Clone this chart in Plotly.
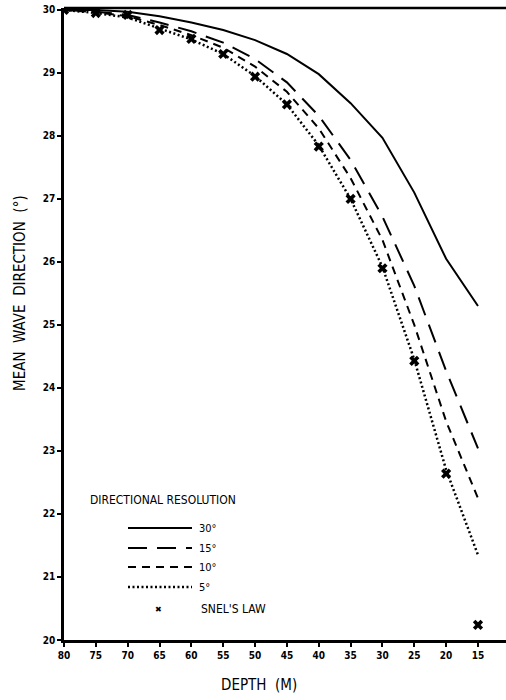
import plotly.graph_objects as go

depth = [80, 75, 70, 65, 60, 55, 50, 45, 40, 35, 30, 25, 20, 15]
res30 = [30.0, 30.0, 29.97, 29.9, 29.8, 29.68, 29.52, 29.3, 28.98, 28.52, 27.97, 27.1, 26.05, 25.3]
res15 = [30.0, 29.97, 29.92, 29.8, 29.66, 29.48, 29.22, 28.85, 28.32, 27.62, 26.72, 25.62, 24.27, 23.04]
res10 = [30.0, 29.96, 29.9, 29.76, 29.6, 29.4, 29.1, 28.7, 28.12, 27.33, 26.35, 25.0, 23.47, 22.25]
res5 = [30.0, 29.95, 29.88, 29.7, 29.53, 29.3, 28.95, 28.5, 27.85, 27.0, 25.92, 24.45, 22.7, 21.35]
snell = [30.0, 29.95, 29.92, 29.68, 29.54, 29.30, 28.94, 28.50, 27.83, 27.0, 25.9, 24.43, 22.64, 20.24]

legend_labels = ["30°", "15°", "10°", "5°"]
legend_title = "DIRECTIONAL RESOLUTION"
snell_label = "SNEL'S LAW"
x_ticks = [80, 75, 70, 65, 60, 55, 50, 45, 40, 35, 30, 25, 20, 15]
y_ticks = [20, 21, 22, 23, 24, 25, 26, 27, 28, 29, 30]

FONT = "DejaVu Sans Condensed"
dashes = ["solid", "19px,10px", "8px,6px", "2px,2.5px"]
widths = [2, 2, 2, 2.5]

fig = go.Figure()
for ys, d, w in zip([res30, res15, res10, res5], dashes, widths):
    fig.add_trace(go.Scatter(x=depth, y=ys, mode="lines",
                             line=dict(color="black", width=w, dash=d),
                             showlegend=False))
fig.add_trace(go.Scatter(x=depth, y=snell, mode="markers",
                         marker=dict(symbol="x", size=9, color="black"),
                         showlegend=False))

# legend drawn manually in paper coordinates
ph = 632.0  # plot height px
pw = 442.0
def py(y):
    return 1 - (y - 8) / ph
def px(x):
    return (x - 64) / pw

shapes = []
ann = []
leg_y = [528, 548, 567, 587]
for lab, d, w, yy in zip(legend_labels, dashes, widths, leg_y):
    shapes.append(dict(type="line", xref="paper", yref="paper",
                       x0=px(128), x1=px(192), y0=py(yy), y1=py(yy),
                       line=dict(color="black", width=w, dash=d)))
    ann.append(dict(text=lab, xref="paper", yref="paper", x=px(197), y=py(yy),
                    xanchor="left", yanchor="middle", showarrow=False,
                    font=dict(family=FONT, size=11, color="black")))
ann.append(dict(text=legend_title, xref="paper", yref="paper", x=px(88), y=py(500),
                xanchor="left", yanchor="middle", showarrow=False,
                font=dict(family=FONT, size=12, color="black")))
ann.append(dict(text=snell_label, xref="paper", yref="paper", x=px(199), y=py(609),
                xanchor="left", yanchor="middle", showarrow=False,
                font=dict(family=FONT, size=12, color="black")))
ann.append(dict(text="DEPTH  (M)", xref="paper", yref="paper", x=px(259), y=py(685),
                xanchor="center", yanchor="middle", showarrow=False,
                font=dict(family=FONT, size=15, color="black")))
ann.append(dict(text="MEAN  WAVE  DIRECTION  (°)", xref="paper", yref="paper", x=px(20), y=py(293),
                xanchor="center", yanchor="middle", showarrow=False, textangle=-90,
                font=dict(family=FONT, size=15, color="black")))
ann.append(dict(text="✖", xref="paper", yref="paper", x=px(158), y=py(609),
                xanchor="center", yanchor="middle", showarrow=False,
                font=dict(family="DejaVu Sans", size=8, color="black")))
shapes.append(dict(type="line", xref="paper", yref="paper", x0=0, x1=1, y0=1, y1=1,
                   line=dict(color="black", width=2.5)))

fig.update_layout(
    width=506, height=700,
    margin=dict(l=64, r=0, t=8, b=60),
    paper_bgcolor="white", plot_bgcolor="white",
    shapes=shapes, annotations=ann,
    xaxis=dict(range=[80, 10.6], tickvals=x_ticks, ticktext=[str(v) for v in x_ticks],
               showgrid=False, zeroline=False, showline=True, linecolor="black", linewidth=2.5,
               ticks="outside", ticklen=4, tickwidth=1.5, tickcolor="black",
               tickfont=dict(family=FONT + ", DejaVu Sans", size=10, color="black", weight="bold")),
    yaxis=dict(range=[20, 30.03], tickvals=y_ticks, ticktext=[str(v) for v in y_ticks],
               showgrid=False, zeroline=False, showline=True, linecolor="black", linewidth=2.5,
               ticks="outside", ticklen=4, tickwidth=1.5, tickcolor="black",
               tickfont=dict(family=FONT + ", DejaVu Sans", size=10, color="black", weight="bold")),
)
fig.write_html("out.html")
